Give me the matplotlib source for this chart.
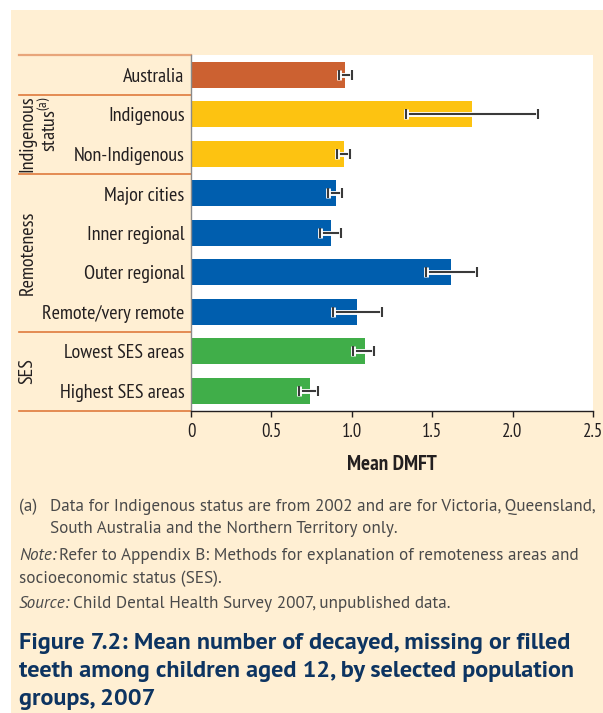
import matplotlib
matplotlib.use("Agg")
import matplotlib.pyplot as plt
import matplotlib.patheffects as pe
from matplotlib.patches import Rectangle
from matplotlib import font_manager

# data
categories = ["Australia", "Indigenous", "Non-Indigenous", "Major cities", "Inner regional",
              "Outer regional", "Remote/very remote", "Lowest SES areas", "Highest SES areas"]
means = [0.96, 1.75, 0.95, 0.90, 0.87, 1.62, 1.035, 1.08, 0.74]
err_low = [0.92, 1.34, 0.91, 0.85, 0.80, 1.46, 0.88, 1.01, 0.67]
err_high = [1.00, 2.16, 0.99, 0.94, 0.93, 1.78, 1.19, 1.14, 0.79]
bar_colors = ["#CC6131", "#FDC311", "#FDC311", "#005EAE", "#005EAE",
              "#005EAE", "#005EAE", "#40AE49", "#40AE49"]
groups = [("Remoteness", 4.5), ("SES", 7.5)]
separators = [0.5, 2.5, 6.5, 8.5]
xticks = [0, 0.5, 1.0, 1.5, 2.0, 2.5]
xticklabels = ["0", "0.5", "1.0", "1.5", "2.0", "2.5"]

names = {f.name for f in font_manager.fontManager.ttflist}
cond = "PT Sans Narrow" if "PT Sans Narrow" in names else "DejaVu Sans"
body = "PT Sans" if "PT Sans" in names else "DejaVu Sans"

plt.rcParams['font.family'] = [cond, 'DejaVu Sans']
plt.rcParams['mathtext.fontset'] = 'custom'
plt.rcParams['mathtext.rm'] = cond

W, H = 603, 713
cream = "#FFEFD3"
fig = plt.figure(figsize=(W/100, H/100), dpi=100, facecolor="white")
fig.patches.append(Rectangle((11/W, 0), 1, 1-10/H, transform=fig.transFigure,
                             facecolor=cream, edgecolor="none", zorder=-10))
r = fig.canvas.get_renderer()

def fit_size(s, target, **kw):
    # font size that makes text s about target pixels wide
    t = fig.text(0, 0, s, fontsize=20, **kw)
    w = t.get_window_extent(r).width
    t.remove()
    return 20 * target / w

lab_fs = fit_size("Remote/very remote", 142, family=cond)
tick_fs = fit_size("0.5", 20, family=cond)
xl_fs = fit_size("Mean DMFT", 90, family=cond, fontweight='bold')
foot_fs = fit_size("Data for Indigenous status are from 2002 and are for Victoria, Queensland,", 544, family=body)
title_fs = fit_size("Figure 7.2: Mean number of decayed, missing or filled", 551, family=body, fontweight='bold')

ax = fig.add_axes([191/W, 1-410.5/H, 402/W, 355.5/H])
ax.set_facecolor("white")
y = list(range(len(categories)))
ax.barh(y, means, height=0.65, color=bar_colors, zorder=2)

xerr = [[m - lo for m, lo in zip(means, err_low)], [hi - m for m, hi in zip(means, err_high)]]
eb = ax.errorbar(means, y, xerr=xerr, fmt='none', ecolor="#3A3A3A", elinewidth=1.5,
                 capsize=3.6, capthick=1.5, zorder=3)
halo = [pe.Stroke(linewidth=3.5, foreground='white'), pe.Normal()]
for cl in eb[1]:
    cl.set_path_effects(halo)
for lc in eb[2]:
    lc.set_path_effects(halo)

ax.set_xlim(0, 2.5)
ax.set_ylim(8.5, -0.5)
ax.set_yticks(y)
ax.set_yticklabels(categories, fontsize=lab_fs, color="#231F20")
ax.tick_params(axis='y', length=0, pad=4.5)
ax.set_xticks(xticks)
ax.set_xticklabels(xticklabels, fontsize=tick_fs, color="#231F20")
ax.tick_params(axis='x', direction='out', length=4, width=1, color="#231F20", pad=5)
ax.set_xlabel("Mean DMFT", fontsize=xl_fs, fontweight='bold', color="#231F20", labelpad=10)
for s in ["top", "right"]:
    ax.spines[s].set_visible(False)
ax.spines["left"].set_color("#8A8A8A")
ax.spines["left"].set_linewidth(1)
ax.spines["bottom"].set_color("#231F20")
ax.spines["bottom"].set_linewidth(1)

# group separators and labels in the left margin
tr = ax.get_yaxis_transform()
ax.plot([-0.428, 0], [-0.5, -0.5], transform=tr, color="#E8A57A", lw=1.6, clip_on=False)
for s in separators:
    ax.plot([-0.428, 0], [s, s], transform=tr, color="#DF7A3C", lw=1.2, clip_on=False)
ax.text(-0.408, 0.53, "Indigenous", transform=tr, rotation=90, ha='center', va='top',
        fontsize=lab_fs, color="#231F20")
ax.text(-0.352, 0.53, r"status$^{\mathrm{(a)}}$", transform=tr, rotation=90, ha='center',
        va='top', fontsize=lab_fs, color="#231F20")
for name, pos in groups:
    ax.text(-0.407, pos, name, transform=tr, rotation=90, ha='center', va='center',
            fontsize=lab_fs, color="#231F20")

# footnotes
grey = "#4A4A4A"
def ft(x, yy, s, **kw):
    return fig.text(x/W, 1-yy/H, s, ha='left', va='center', fontsize=foot_fs,
                    color=grey, family=body, **kw)

ft(19, 507, "(a)")
ft(50, 507, "Data for Indigenous status are from 2002 and are for Victoria, Queensland,")
ft(50, 529, "South Australia and the Northern Territory only.")
t = ft(19, 556, "Note:", style='italic')
w = t.get_window_extent(r).width
ft(19 + w + 3, 556, "Refer to Appendix B: Methods for explanation of remoteness areas and")
ft(19, 579, "socioeconomic status (SES).")
t = ft(19, 604, "Source:", style='italic')
w = t.get_window_extent(r).width
ft(19 + w + 3, 604, "Child Dental Health Survey 2007, unpublished data.")

title = ["Figure 7.2: Mean number of decayed, missing or filled",
         "teeth among children aged 12, by selected population",
         "groups, 2007"]
for i, line in enumerate(title):
    fig.text(19/W, 1-(643 + 28.5*i)/H, line, ha='left', va='center', fontsize=title_fs,
             fontweight='bold', color="#0D3461", family=body)

plt.savefig("out.png", dpi=100, facecolor=fig.get_facecolor())
